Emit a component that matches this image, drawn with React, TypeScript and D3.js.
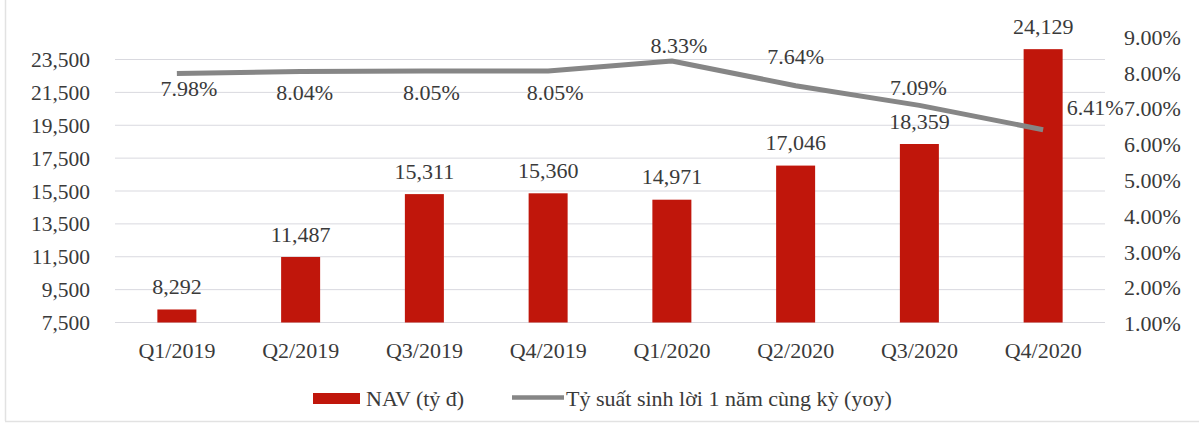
import React from "react";
import * as d3 from "d3";

const categories = ["Q1/2019", "Q2/2019", "Q3/2019", "Q4/2019", "Q1/2020", "Q2/2020", "Q3/2020", "Q4/2020"];
const navValues = [8292, 11487, 15311, 15360, 14971, 17046, 18359, 24129];
const yoyValues = [7.98, 8.04, 8.05, 8.05, 8.33, 7.64, 7.09, 6.41];
const leftTicks = [7500, 9500, 11500, 13500, 15500, 17500, 19500, 21500, 23500];
const rightTicks = [1, 2, 3, 4, 5, 6, 7, 8, 9];
const seriesNames = ["NAV (tỷ đ)", "Tỷ suất sinh lời 1 năm cùng kỳ (yoy)"];

// label placement styles for the line labels
const lineLabelDx = [12, 4, 7, 7, 7, 0, -1, 52];
const lineLabelDy = [15, 21, 21, 21, -16, -29, -18, -22];

const W = 1199;
const H = 428;
const FONT = "'Liberation Serif', 'Times New Roman', serif";
const TEXT = "#3a3a3a";
const BAR = "#c0160b";
const LINE = "#868686";
const FS = 22;

export default function App() {
  const x = d3.scalePoint<string>().domain(categories).range([115, 1105]).padding(0.5);
  const yL = d3.scaleLinear().domain([7500, 23500]).range([322.5, 59.5]);
  const yR = d3.scaleLinear().domain([1, 9]).range([323.5, 37]);
  const barW = 39;
  const fmt = d3.format(",");
  const line = d3
    .line<number>()
    .x((_, i) => x(categories[i])!)
    .y((d) => yR(d));

  return (
    <svg
      width={W}
      height={H}
      style={{ position: "absolute", left: 0, top: 0, background: "#fff" }}
      fontFamily={FONT}
    >
      <rect x={0} y={0} width={W} height={H} fill="#fff" />
      {/* frame */}
      <line x1={5.5} x2={5.5} y1={0} y2={421} stroke="#e2e2e2" strokeWidth={1.5} />
      <line x1={5} x2={W} y1={421.5} y2={421.5} stroke="#e2e2e2" strokeWidth={1.5} />

      {/* gridlines */}
      {leftTicks.map((t) => (
        <line key={t} x1={115} x2={1105} y1={yL(t)} y2={yL(t)} stroke="#d9d9df" strokeWidth={1} />
      ))}

      {/* left axis labels */}
      {leftTicks.map((t) => (
        <text key={t} x={90} y={yL(t)} dy="0.35em" textAnchor="end" fontSize={21.5} fill={TEXT}>
          {fmt(t)}
        </text>
      ))}

      {/* right axis labels */}
      {rightTicks.map((t) => (
        <text key={t} x={1124} y={yR(t)} dy="0.35em" textAnchor="start" fontSize={FS} fill={TEXT}>
          {t.toFixed(2)}%
        </text>
      ))}

      {/* bars */}
      {navValues.map((v, i) => (
        <rect
          key={i}
          x={x(categories[i])! - barW / 2}
          y={yL(v)}
          width={barW}
          height={yL(7500) - yL(v)}
          fill={BAR}
        />
      ))}

      {/* bar labels */}
      {navValues.map((v, i) => (
        <text key={i} x={x(categories[i])!} y={yL(v) - 23} dy="0.35em" textAnchor="middle" fontSize={FS} fill={TEXT}>
          {fmt(v)}
        </text>
      ))}

      {/* line */}
      <path d={line(yoyValues)!} fill="none" stroke={LINE} strokeWidth={5} strokeLinejoin="round" />

      {/* line labels */}
      {yoyValues.map((v, i) => (
        <text
          key={i}
          x={x(categories[i])! + lineLabelDx[i]}
          y={yR(v) + lineLabelDy[i]}
          dy="0.35em"
          textAnchor="middle"
          fontSize={FS}
          fill={TEXT}
        >
          {v.toFixed(2)}%
        </text>
      ))}

      {/* category labels */}
      {categories.map((c) => (
        <text key={c} x={x(c)!} y={350} dy="0.35em" textAnchor="middle" fontSize={FS} fill={TEXT}>
          {c}
        </text>
      ))}

      {/* legend */}
      <rect x={313} y={393} width={47} height={11} fill={BAR} />
      <text x={366} y={398} dy="0.35em" fontSize={FS} fill={TEXT}>
        {seriesNames[0]}
      </text>
      <line x1={512} x2={564} y1={397.5} y2={397.5} stroke={LINE} strokeWidth={4.5} />
      <text x={566} y={398} dy="0.35em" fontSize={FS} fill={TEXT}>
        {seriesNames[1]}
      </text>
    </svg>
  );
}
